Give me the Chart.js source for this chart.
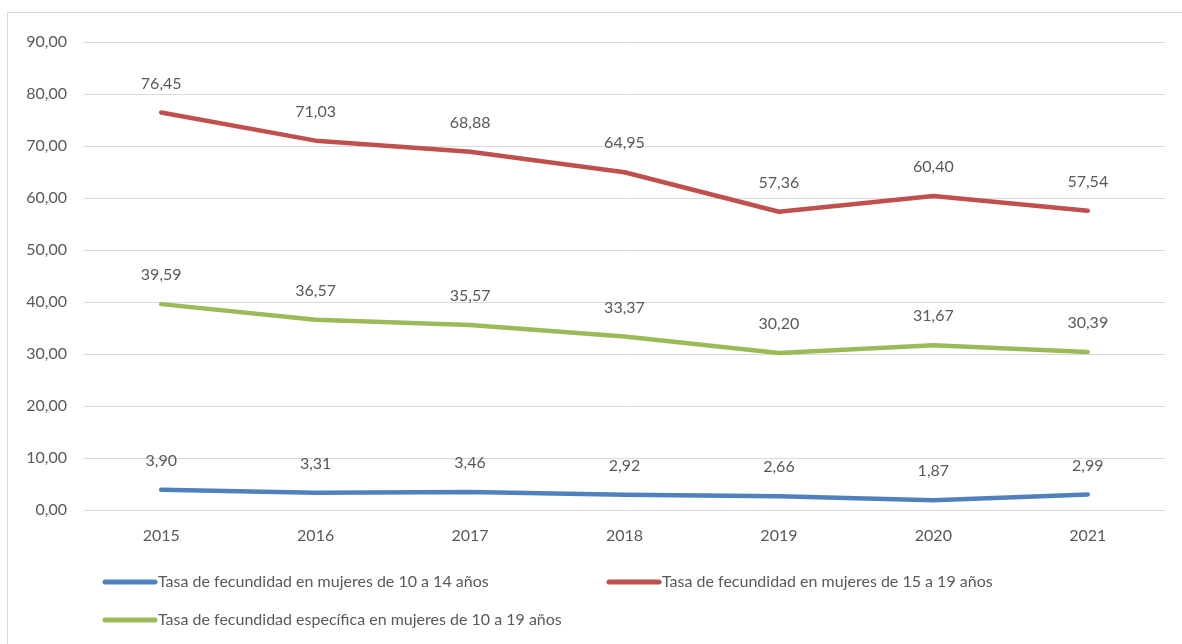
<!DOCTYPE html>
<html>
<head>
<meta charset="utf-8">
<script src="https://cdn.jsdelivr.net/npm/chart.js@4"></script>
<style>
  body { margin: 0; background: #fff; }
  #frame { position: absolute; left: 7px; top: 12px; width: 1200px; height: 700px; border: 1px solid #d9d9d9; }
  #wrap { position: absolute; left: 0; top: 0; width: 1182px; height: 644px; }
</style>
</head>
<body>
<div id="frame"></div>
<div id="wrap"><canvas id="chart"></canvas></div>
<script>
// datos
const years = ['2015', '2016', '2017', '2018', '2019', '2020', '2021'];
const tasa10a14 = [3.90, 3.31, 3.46, 2.92, 2.66, 1.87, 2.99];
const tasa15a19 = [76.45, 71.03, 68.88, 64.95, 57.36, 60.40, 57.54];
const tasa10a19 = [39.59, 36.57, 35.57, 33.37, 30.20, 31.67, 30.39];
const yTicks = [0, 10, 20, 30, 40, 50, 60, 70, 80, 90];

const FONT = 'Lato, "Open Sans", sans-serif';
const FS = 16;
const TXT = '#595959';
const fmt = v => v.toFixed(2).replace('.', ',');

// etiquetas encima de cada punto
const valueLabels = {
    id: 'valueLabels',
    afterDatasetsDraw(chart) {
        const ctx = chart.ctx;
        ctx.save();
        ctx.font = FS + 'px ' + FONT;
        ctx.fillStyle = TXT;
        ctx.textAlign = 'center';
        ctx.textBaseline = 'middle';
        chart.data.datasets.forEach((ds, i) => {
            chart.getDatasetMeta(i).data.forEach((pt, j) => {
                ctx.fillText(fmt(ds.data[j]), pt.x, pt.y - 29);
            });
        });
        ctx.restore();
    }
};

// leyenda tipo Excel (2 filas)
const excelLegend = {
    id: 'excelLegend',
    afterDraw(chart) {
        const ctx = chart.ctx;
        const spots = [[103, 582], [607, 582], [103, 620]];
        ctx.save();
        ctx.font = FS + 'px ' + FONT;
        ctx.textBaseline = 'middle';
        chart.data.datasets.forEach((ds, i) => {
            const [x, y] = spots[i];
            ctx.strokeStyle = ds.borderColor;
            ctx.lineWidth = 5;
            ctx.lineCap = 'round';
            ctx.beginPath();
            ctx.moveTo(x + 2, y);
            ctx.lineTo(x + 52, y);
            ctx.stroke();
            ctx.fillStyle = TXT;
            ctx.fillText(ds.label, x + 55, y);
        });
        ctx.restore();
    }
};

const line = (label, data, color) => ({
    label, data,
    borderColor: color,
    backgroundColor: color,
    borderWidth: 4.5,
    borderCapStyle: 'round',
    borderJoinStyle: 'round',
    pointRadius: 0,
    tension: 0
});

new Chart(document.getElementById('chart'), {
    type: 'line',
    data: {
        labels: years,
        datasets: [
            line('Tasa de fecundidad en mujeres de 10 a 14 años', tasa10a14, '#4f81bd'),
            line('Tasa de fecundidad en mujeres de 15 a 19 años', tasa15a19, '#c0504d'),
            line('Tasa de fecundidad específica en mujeres de 10 a 19 años', tasa10a19, '#9bbb59')
        ]
    },
    options: {
        responsive: true,
        maintainAspectRatio: false,
        animation: false,
        layout: { padding: { top: 42, right: 17, bottom: 84, left: 0 } },
        plugins: { legend: { display: false }, tooltip: { enabled: false } },
        scales: {
            x: {
                offset: true,
                grid: { display: false, drawTicks: false },
                border: { display: false },
                ticks: { color: TXT, font: { family: FONT, size: FS }, padding: 16 },
                afterFit(s) { s.height = 50; }
            },
            y: {
                min: 0, max: 90,
                afterBuildTicks(s) { s.ticks = yTicks.map(v => ({ value: v })); },
                grid: { color: '#d9d9d9', lineWidth: 1, drawTicks: false },
                border: { display: false },
                ticks: { color: TXT, font: { family: FONT, size: FS }, padding: 17, callback: v => fmt(v) },
                afterFit(s) { s.width = 84; }
            }
        }
    },
    plugins: [valueLabels, excelLegend]
});
</script>
</body>
</html>
